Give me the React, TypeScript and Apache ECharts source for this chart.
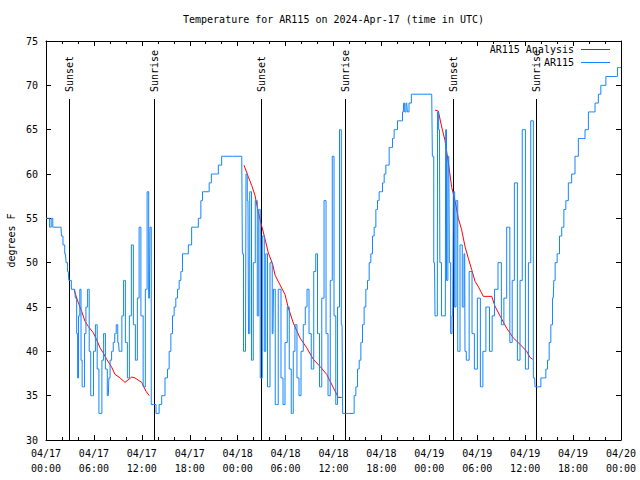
import React, { useEffect, useRef } from "react";
import * as echarts from "echarts";

// ---------- text ----------
const TITLE = "Temperature for AR115 on 2024-Apr-17 (time in UTC)";
const Y_NAME = "degrees F";
const SERIES_ANALYSIS = "AR115 Analysis";
const SERIES_OBS = "AR115";
const MONTH = "04";
const FIRST_DAY = 17;

// ---------- axes (x in hours since 04/17 00:00 UTC) ----------
const X_MIN = 0;
const X_MAX = 72;
const X_STEP = 6;
const Y_MIN = 30;
const Y_MAX = 75;
const Y_STEP = 5;

// ---------- sunset / sunrise markers ----------
const sunEventHours = [2.92, 13.56, 26.96, 37.48, 51.0, 61.4];
const sunEventLabels = ["Sunset", "Sunrise", "Sunset", "Sunrise", "Sunset", "Sunrise"];

// ---------- AR115 observations ----------
const ar115Hours = [
  0.0, 0.35, 0.55, 0.75, 0.95, 1.88, 2.0, 2.25, 2.44, 2.59, 2.79, 2.92, 3.09, 3.26, 3.59, 3.76,
  3.92, 4.0, 4.15, 4.32, 4.45, 4.6, 4.76, 4.9, 5.1, 5.32, 5.5, 5.7, 5.85, 6.05, 6.32, 6.5, 6.75, 6.9,
  7.1, 7.33, 7.55, 7.8, 7.95, 8.1, 8.33, 8.51, 8.7, 8.89, 9.08, 9.25, 9.4, 9.6, 9.83, 10.05, 10.33,
  10.55, 10.83, 11.05, 11.33, 11.55, 11.77, 12.0, 12.33, 12.55, 12.77, 12.95, 13.09, 13.27, 13.65,
  13.9, 14.05,
  14.28, 14.69, 15.11, 15.31, 15.53, 15.74, 15.94, 16.15, 16.36, 16.57, 16.78, 16.99, 17.19, 17.62,
  18.03, 18.44, 18.87, 19.28, 19.5, 19.7, 20.32, 20.54, 20.87, 21.37, 21.79, 22.2, 24.51,
  24.67, 24.79, 24.98, 25.11, 25.29, 25.42, 25.61, 25.86, 26.05, 26.36, 26.55, 26.73, 26.92, 27.24,
  27.42, 27.61, 27.86, 28.24, 28.42, 28.55, 28.86, 29.3, 29.55, 29.8, 30.05, 30.37, 30.55, 30.87,
  31.05, 31.3, 31.55, 31.81, 32.06, 32.37, 32.56, 32.81, 33.06, 33.37, 33.68, 33.87, 34.12, 34.37,
  34.69, 34.94, 35.19, 35.44, 35.75, 35.94, 36.19, 36.38, 36.63, 36.88, 37.07, 37.23, 38.48,
  38.69, 38.91, 39.11, 39.32, 39.53, 39.73, 39.94, 40.16, 40.36, 40.57, 40.78, 40.98, 41.2, 41.41,
  41.61, 41.82, 42.04, 42.24, 42.45, 42.66, 42.86, 43.08, 43.29, 43.49, 43.7, 43.91, 44.11, 44.54,
  44.74, 44.83, 44.99, 45.17, 45.33, 45.58, 45.92, 48.3,
  48.46, 48.65, 48.77, 49.0, 49.06, 49.27, 49.37, 49.67, 50.0, 50.09, 50.21, 50.43, 50.59, 50.75,
  50.93, 51.09, 51.25, 51.43, 51.68, 52.0, 52.25, 52.43, 52.5, 52.75, 53.22, 53.47, 53.81, 54.22,
  54.56, 54.85, 55.31, 55.76, 55.97, 56.35, 56.85, 57.19, 57.48, 57.89, 58.27, 58.48, 58.82, 59.23,
  59.48, 59.79, 60.27, 60.54, 60.86, 61.19, 61.27, 61.86,
  62.07, 62.48, 62.7, 62.9, 63.11, 63.32, 63.52, 63.65, 63.86, 64.15, 64.45, 64.7, 64.99, 65.2,
  65.61, 66.03, 66.45, 66.87, 67.28, 67.71, 68.12, 68.54, 68.96, 69.37, 69.58, 70.0, 70.21, 71.46,
  71.65, 72.0,
];
const ar115Temps = [
  55, 55, 54, 55, 54, 54, 53, 52, 51, 50, 49, 48, 48, 47, 47, 46,
  42, 37, 44, 47, 39, 36, 36, 42, 45, 47, 40, 35, 35, 40, 43, 38, 33, 33,
  39, 42, 38, 35, 37, 39, 40, 41, 42, 43, 41, 40, 40, 44, 48, 41, 37,
  44, 52, 43, 39, 46, 54, 44, 36, 47, 58, 46, 54, 34, 34,
  33, 33,
  34, 35, 37, 38, 40, 42, 44, 45, 46, 47, 48, 49, 51, 51,
  52, 54, 54, 55, 57, 58, 58, 59, 60, 60, 61, 62, 62,
  51, 40, 40, 60, 57, 42, 58, 39, 50, 57, 44, 56, 37, 53,
  40, 51, 36, 50, 42, 47, 34, 47, 37, 34, 41, 45, 38, 33,
  40, 43, 37, 35, 40, 43, 45, 47, 42, 38, 49, 51, 42, 36,
  46, 57, 42, 35, 48, 62, 44, 34, 45, 65, 43, 33, 33,
  35, 36, 38, 39, 41, 43, 45, 47, 48, 50, 51, 53, 54, 56,
  57, 58, 58, 59, 60, 61, 61, 63, 63, 64, 65, 65, 66, 66,
  67, 68, 67, 68, 67, 68, 69, 69,
  62, 50, 44, 44, 67, 65, 50, 44, 44, 65, 48, 62, 50, 42,
  44, 58, 45, 57, 40, 52, 45, 51, 40, 39, 49, 42, 38, 46,
  36, 40, 45, 40, 44, 47, 50, 43, 46, 54, 41, 48, 59, 39,
  48, 65, 38, 50, 66, 37, 36, 36,
  37, 37, 38, 39, 41, 43, 46, 48, 50, 51, 53, 54, 56, 57,
  59, 60, 62, 64, 64, 65, 67, 67, 68, 69, 70, 70, 71, 71,
  72, 72,
];

// ---------- AR115 Analysis (one segment per night) ----------
const analysisHours1 = [3.51, 3.92, 4.47, 4.88, 5.3, 5.92, 6.35, 6.76, 7.18, 7.6, 8.23, 8.64, 9.27, 9.89, 10.73, 11.14, 11.98, 12.52, 12.94];
const analysisTemps1 = [47.0, 45.8, 44.5, 43.4, 42.8, 42.1, 41.3, 40.4, 39.8, 39.1, 38.2, 37.4, 37.0, 36.5, 37.1, 37.0, 36.5, 35.5, 35.0];
const analysisHours2 = [24.79, 25.33, 25.76, 26.17, 26.58, 26.88, 27.42, 27.84, 28.39, 28.68, 29.3, 29.93, 30.34, 30.97, 31.81, 32.65, 33.47, 34.31, 35.15, 35.98, 36.6, 37.03];
const analysisTemps2 = [61.0, 59.7, 58.7, 57.6, 55.7, 54.6, 52.7, 51.1, 49.8, 48.6, 47.5, 46.4, 44.9, 43.2, 41.5, 40.4, 39.1, 38.3, 37.4, 35.9, 34.8, 34.8];
const analysisHours3 = [48.71, 49.12, 49.55, 49.96, 50.38, 50.8, 51.21, 51.63, 52.05, 52.47, 52.88, 53.31, 53.72, 54.13, 54.76, 55.81, 56.22, 56.85, 57.69, 58.52, 59.35, 60.19, 60.61, 60.94];
const analysisTemps3 = [67.2, 67.1, 65.3, 63.8, 61.3, 58.5, 57.0, 55.0, 53.7, 51.8, 50.5, 49.2, 47.9, 47.3, 46.2, 46.2, 45.1, 44.0, 42.6, 41.5, 40.8, 40.0, 39.3, 39.1];

// ---------- styles ----------
const FONT = '"DejaVu Sans Mono", "Liberation Mono", monospace';
const FS = 10;
const RED = "#ff0000";
const BLUE = "#1484ff";
const BLACK = "#000000";

const pad2 = (n: number) => (n < 10 ? "0" + n : "" + n);
const xLabel = (v: number) => {
  const day = FIRST_DAY + Math.floor(v / 24);
  const hh = Math.round(v % 24);
  return `${MONTH}/${day}\n${pad2(hh)}:00`;
};

const zip = (xs: number[], ys: number[]) => xs.map((x, i) => [x, ys[i]]);

export default function App() {
  const ref = useRef<HTMLDivElement>(null);

  useEffect(() => {
    if (!ref.current) return;
    const chart = echarts.init(ref.current, null, { renderer: "svg" });

    const GRID = { left: 46, right: 19, top: 41, bottom: 40 };
    const plotRight = 640 - GRID.right;
    const plotMidX = (GRID.left + plotRight) / 2;
    const plotMidY = (GRID.top + (480 - GRID.bottom)) / 2;

    const tickStyle = { color: BLACK, width: 1 };
    const baseX = {
      type: "value" as const,
      min: X_MIN,
      max: X_MAX,
      interval: X_STEP,
      axisLine: { show: true, onZero: false, lineStyle: { color: BLACK, width: 1 } },
      axisTick: { show: true, inside: true, length: 5, lineStyle: tickStyle },
      minorTick: { show: true, splitNumber: 3, length: 3, lineStyle: tickStyle },
      splitLine: { show: false },
    };
    const baseY = {
      type: "value" as const,
      min: Y_MIN,
      max: Y_MAX,
      interval: Y_STEP,
      axisLine: { show: true, onZero: false, lineStyle: { color: BLACK, width: 1 } },
      axisTick: { show: true, inside: true, length: 5, lineStyle: tickStyle },
      splitLine: { show: false },
    };

    const analysisSeries = [
      zip(analysisHours1, analysisTemps1),
      zip(analysisHours2, analysisTemps2),
      zip(analysisHours3, analysisTemps3),
    ].map((data) => ({
      name: SERIES_ANALYSIS,
      type: "line" as const,
      data,
      showSymbol: false,
      symbol: "none",
      lineStyle: { color: RED, width: 1 },
      itemStyle: { color: RED },
      z: 3,
    }));

    chart.setOption({
      animation: false,
      backgroundColor: "#ffffff",
      title: {
        text: TITLE,
        left: plotMidX,
        top: 14,
        padding: 0,
        textAlign: "center",
        textStyle: { fontFamily: FONT, fontSize: FS, fontWeight: "normal", color: BLACK },
      },
      grid: { ...GRID, containLabel: false },
      xAxis: [
        {
          ...baseX,
          position: "bottom",
          axisLabel: {
            formatter: xLabel,
            fontFamily: FONT,
            fontSize: FS,
            color: BLACK,
            lineHeight: 15,
            margin: 6,
            hideOverlap: false,
            showMinLabel: true,
            showMaxLabel: true,
          },
        },
        { ...baseX, position: "top", axisLabel: { show: false } },
      ],
      yAxis: [
        {
          ...baseY,
          position: "left",
          axisLabel: { fontFamily: FONT, fontSize: FS, color: BLACK, margin: 8 },
        },
        { ...baseY, position: "right", axisLabel: { show: false } },
      ],
      series: [
        {
          type: "custom",
          name: "sun",
          silent: true,
          z: 2,
          data: sunEventHours.map((h) => [h, Y_MIN]),
          encode: { x: 0, y: 1 },
          renderItem: (params: any, api: any) => {
            const p = api.coord([api.value(0), Y_MIN]);
            const cs = params.coordSys;
            const x = Math.round(p[0]) + 0.5;
            return {
              type: "group",
              children: [
                {
                  type: "line",
                  shape: { x1: x, y1: cs.y + 58, x2: x, y2: cs.y + cs.height },
                  style: { stroke: BLACK, lineWidth: 1 },
                },
                {
                  type: "text",
                  x: x,
                  y: cs.y + 51,
                  rotation: Math.PI / 2,
                  style: {
                    text: sunEventLabels[params.dataIndex],
                    font: `${FS}px ${FONT}`,
                    fill: BLACK,
                    align: "left",
                    verticalAlign: "middle",
                    textAlign: "left",
                    textVerticalAlign: "middle",
                  },
                },
              ],
            };
          },
        },
        ...analysisSeries,
        {
          name: SERIES_OBS,
          type: "line",
          step: "middle",
          data: zip(ar115Hours, ar115Temps),
          showSymbol: false,
          symbol: "none",
          lineStyle: { color: BLUE, width: 1 },
          itemStyle: { color: BLUE },
          z: 4,
        },
      ],
      graphic: [
        {
          type: "text",
          x: 11.5,
          y: plotMidY,
          rotation: Math.PI / 2,
          style: {
            text: Y_NAME,
            font: `${FS}px ${FONT}`,
            fill: BLACK,
            align: "center",
            verticalAlign: "middle",
            textAlign: "center",
            textVerticalAlign: "middle",
          },
        },
        {
          type: "text",
          x: 574,
          y: 49.5,
          style: {
            text: SERIES_ANALYSIS,
            font: `${FS}px ${FONT}`,
            fill: BLACK,
            align: "right",
            verticalAlign: "middle",
            textAlign: "right",
            textVerticalAlign: "middle",
          },
        },
        {
          type: "line",
          shape: { x1: 581, y1: 49.5, x2: 610, y2: 49.5 },
          style: { stroke: RED, lineWidth: 1 },
        },
        {
          type: "text",
          x: 574,
          y: 62.5,
          style: {
            text: SERIES_OBS,
            font: `${FS}px ${FONT}`,
            fill: BLACK,
            align: "right",
            verticalAlign: "middle",
            textAlign: "right",
            textVerticalAlign: "middle",
          },
        },
        {
          type: "line",
          shape: { x1: 581, y1: 62.5, x2: 610, y2: 62.5 },
          style: { stroke: BLUE, lineWidth: 1 },
        },
      ],
    });

    return () => chart.dispose();
  }, []);

  return (
    <div
      ref={ref}
      style={{ position: "fixed", left: 0, top: 0, width: 640, height: 480, background: "#fff" }}
    />
  );
}
